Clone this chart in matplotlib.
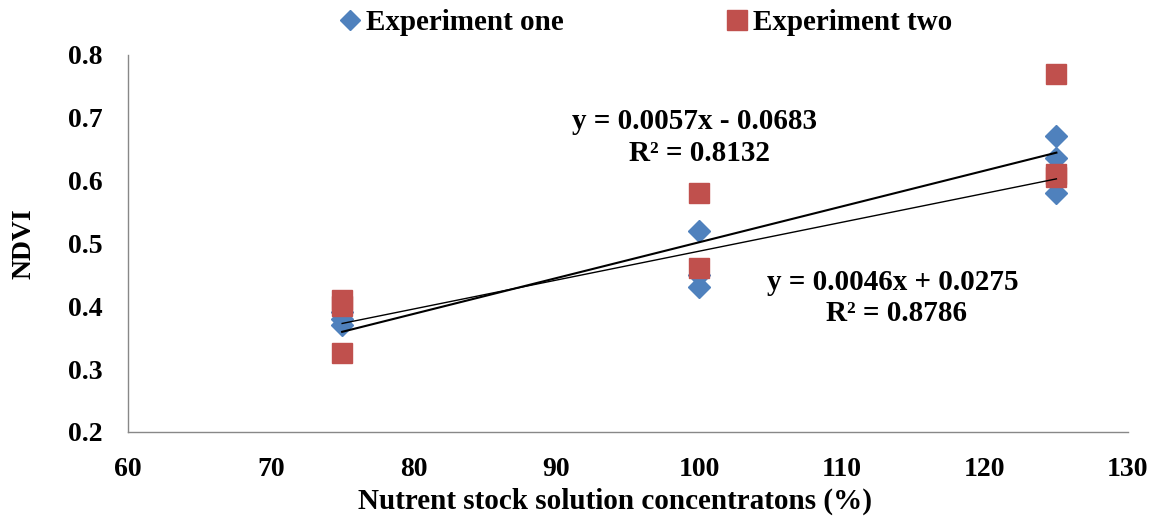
import matplotlib
matplotlib.use("Agg")
import matplotlib.pyplot as plt
import numpy as np

# Nutrient stock solution concentration (%) and NDVI readings
exp1_x = [75, 75, 75, 100, 100, 100, 125, 125, 125]
exp1_y = [0.39, 0.38, 0.37, 0.52, 0.45, 0.43, 0.67, 0.635, 0.58]

exp2_x = [75, 75, 75, 100, 100, 125, 125, 125]
exp2_y = [0.41, 0.40, 0.325, 0.58, 0.46, 0.77, 0.61, 0.605]

# Linear trend lines (slope, intercept, R²)
fit1 = (0.0046, 0.0275, 0.8786)
fit2 = (0.0057, -0.0683, 0.8132)
fit_x = [75, 125]

x_ticks = [60, 70, 80, 90, 100, 110, 120, 130]
y_ticks = [0.2, 0.3, 0.4, 0.5, 0.6, 0.7, 0.8]

blue = "#4F81BD"
red = "#C0504D"

plt.rcParams["font.family"] = ["Liberation Serif", "DejaVu Serif"]
plt.rcParams["font.weight"] = "bold"

fig = plt.figure(figsize=(11.52, 5.21), dpi=100)
ax = fig.add_axes([0.111, 0.171, 0.868, 0.724])

ax.plot(exp1_x, exp1_y, linestyle="none", marker="D", markersize=11,
        color=blue, label="Experiment one", zorder=3)
ax.plot(exp2_x, exp2_y, linestyle="none", marker="s", markersize=15,
        color=red, label="Experiment two", zorder=4)

fx = np.array(fit_x, dtype=float)
ax.plot(fx, fit1[0] * fx + fit1[1], color="black", lw=1.0, zorder=5)
ax.plot(fx, fit2[0] * fx + fit2[1], color="black", lw=1.5, zorder=5)

ann_size = 21
ax.text(99.7, 0.693, f"y = {fit2[0]:.4f}x - {abs(fit2[1]):.4f}",
        ha="center", va="center", fontsize=ann_size, fontweight="bold")
ax.text(100.0, 0.643, f"R² = {fit2[2]:.4f}",
        ha="center", va="center", fontsize=ann_size, fontweight="bold")
ax.text(113.55, 0.438, f"y = {fit1[0]:.4f}x + {fit1[1]:.4f}",
        ha="center", va="center", fontsize=ann_size, fontweight="bold")
ax.text(113.8, 0.388, f"R² = {fit1[2]:.4f}",
        ha="center", va="center", fontsize=ann_size, fontweight="bold")

ax.set_xlim(60, 130)
ax.set_ylim(0.2, 0.8)
ax.set_xticks(x_ticks)
ax.set_yticks(y_ticks)
ax.set_xticklabels([str(v) for v in x_ticks])
ax.set_yticklabels([f"{v:.1f}" for v in y_ticks])
ax.tick_params(axis="x", length=0, labelsize=20, pad=18)
ax.tick_params(axis="y", length=0, labelsize=20, pad=18)
for lab in ax.get_xticklabels() + ax.get_yticklabels():
    lab.set_fontweight("bold")

for side in ("top", "right"):
    ax.spines[side].set_visible(False)
for side in ("left", "bottom"):
    ax.spines[side].set_color("#888888")
    ax.spines[side].set_linewidth(1.0)

ax.set_xlabel("Nutrent stock solution concentratons (%)", fontsize=21,
              fontweight="bold", va="center")
ax.xaxis.set_label_coords(0.487, -0.185)
ax.set_ylabel("NDVI", fontsize=20, fontweight="bold", va="center")
ax.yaxis.set_label_coords(-0.104, 0.5)

handles, labels = ax.get_legend_handles_labels()
leg = fig.legend(handles, labels, loc="center", bbox_to_anchor=(0.561, 0.956),
                 ncol=2, frameon=False, fontsize=21, columnspacing=5.6,
                 handlelength=0.7, handletextpad=0.2, markerscale=0.95,
                 borderpad=0.0)
for t in leg.get_texts():
    t.set_fontweight("bold")

fig.savefig("out.png", dpi=100, facecolor="white")
